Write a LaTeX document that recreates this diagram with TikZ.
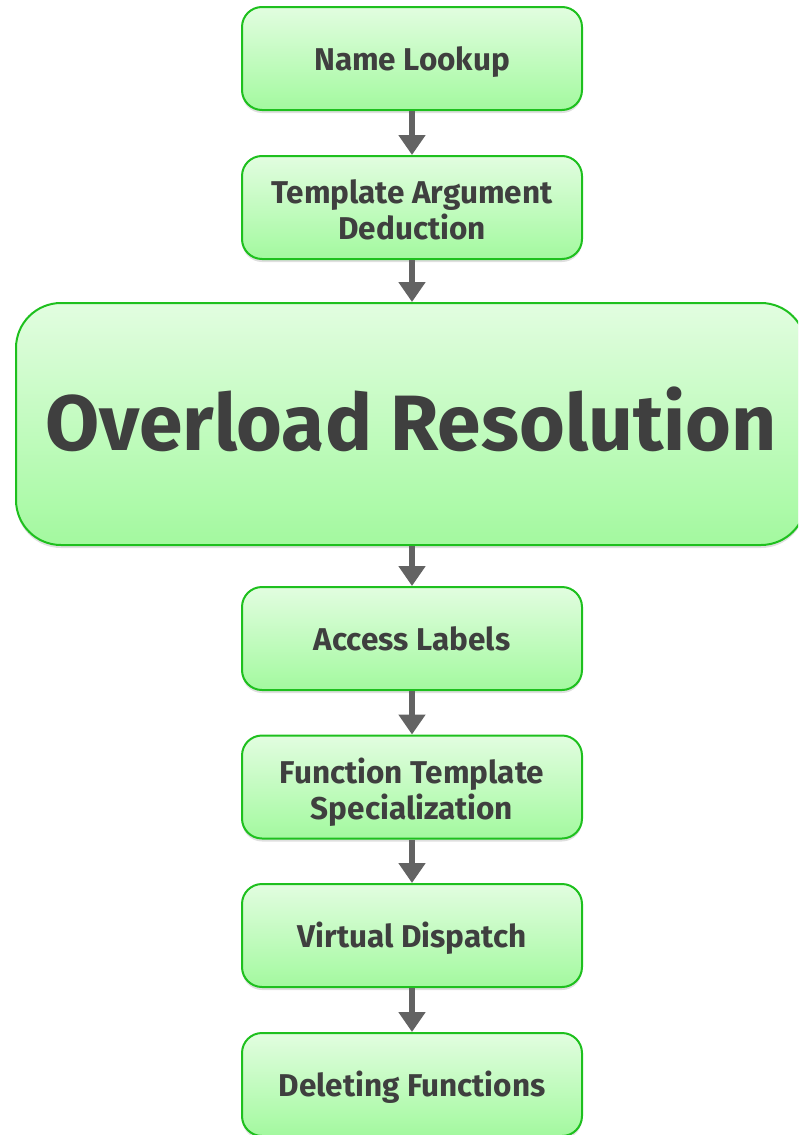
\documentclass[tikz,border=0pt]{standalone}
\usepackage{fontspec}
\setmainfont{Fira Sans}
\usetikzlibrary{arrows.meta,shadows}
\definecolor{boxtop}{HTML}{E2FDE0}
\definecolor{boxbot}{HTML}{A3F99F}
\definecolor{boxline}{HTML}{1EC01E}
\definecolor{txt}{HTML}{3F3F3F}
\definecolor{arrowgray}{HTML}{636363}
\tikzset{
  stage/.style={draw=boxline, line width=2pt, rounded corners=20pt,
    top color=boxtop, bottom color=boxbot,
    minimum width=340pt, minimum height=103pt, align=center,
    text=txt, font=\fontsize{31.5}{36}\selectfont\bfseries,
    text height=24pt, text depth=0pt,
    drop shadow={shadow xshift=0pt, shadow yshift=-3pt, opacity=0.25}},
  twolines/.style={text height=64pt, text depth=0pt},
  bigstage/.style={stage, rounded corners=45pt, minimum width=790pt,
    minimum height=242pt, text height=52pt, text depth=0pt,
    font=\fontsize{78.5}{90}\selectfont\bfseries},
  flow/.style={draw=arrowgray, line width=6pt,
    -{Triangle[length=20pt,width=26pt]}, shorten >=0pt}
}
\begin{document}
\begin{tikzpicture}[x=1pt,y=-1pt]
\useasboundingbox (0,0) rectangle (798,1135);
\clip (0,0) rectangle (798,1135);
\node[stage] (lookup) at (412,58.5) {Name Lookup};
\node[stage,twolines] (deduce) at (412,207.5) {Template Argument\\Deduction};
\node[bigstage] (overload) at (411,424) {Overload Resolution};
\node[stage] (access) at (412,638.5) {Access Labels};
\node[stage,twolines] (special) at (412,787) {Function Template\\Specialization};
\node[stage] (virtual) at (412,935.5) {Virtual Dispatch};
\node[stage] (delete) at (412,1084.5) {Deleting Functions};
\draw[flow] (lookup.south) -- (deduce.north);
\draw[flow] (deduce.south) -- (deduce.south |- overload.north);
\draw[flow] (deduce.south |- overload.south) -- (access.north);
\draw[flow] (access.south) -- (special.north);
\draw[flow] (special.south) -- (virtual.north);
\draw[flow] (virtual.south) -- (delete.north);
\end{tikzpicture}
\end{document}
